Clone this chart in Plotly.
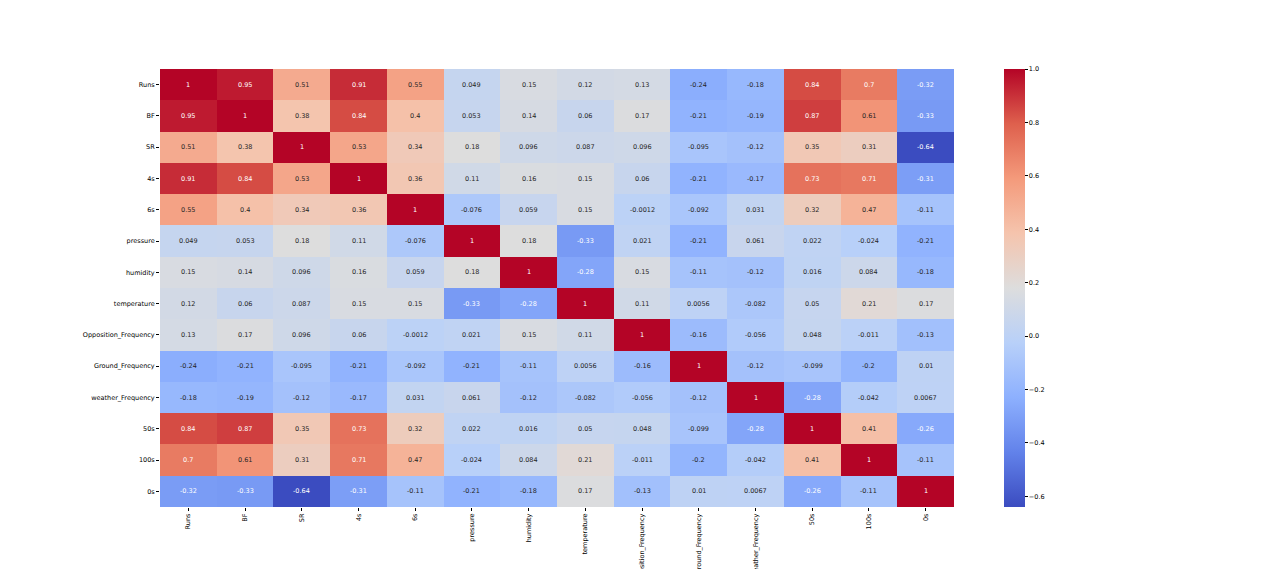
import plotly.graph_objects as go

labels = ["Runs", "BF", "SR", "4s", "6s", "pressure", "humidity", "temperature",
          "Opposition_Frequency", "Ground_Frequency", "weather_Frequency", "50s", "100s", "0s"]

corr = [
    [1, 0.95, 0.51, 0.91, 0.55, 0.049, 0.15, 0.12, 0.13, -0.24, -0.18, 0.84, 0.7, -0.32],
    [0.95, 1, 0.38, 0.84, 0.4, 0.053, 0.14, 0.06, 0.17, -0.21, -0.19, 0.87, 0.61, -0.33],
    [0.51, 0.38, 1, 0.53, 0.34, 0.18, 0.096, 0.087, 0.096, -0.095, -0.12, 0.35, 0.31, -0.64],
    [0.91, 0.84, 0.53, 1, 0.36, 0.11, 0.16, 0.15, 0.06, -0.21, -0.17, 0.73, 0.71, -0.31],
    [0.55, 0.4, 0.34, 0.36, 1, -0.076, 0.059, 0.15, -0.0012, -0.092, 0.031, 0.32, 0.47, -0.11],
    [0.049, 0.053, 0.18, 0.11, -0.076, 1, 0.18, -0.33, 0.021, -0.21, 0.061, 0.022, -0.024, -0.21],
    [0.15, 0.14, 0.096, 0.16, 0.059, 0.18, 1, -0.28, 0.15, -0.11, -0.12, 0.016, 0.084, -0.18],
    [0.12, 0.06, 0.087, 0.15, 0.15, -0.33, -0.28, 1, 0.11, 0.0056, -0.082, 0.05, 0.21, 0.17],
    [0.13, 0.17, 0.096, 0.06, -0.0012, 0.021, 0.15, 0.11, 1, -0.16, -0.056, 0.048, -0.011, -0.13],
    [-0.24, -0.21, -0.095, -0.21, -0.092, -0.21, -0.11, 0.0056, -0.16, 1, -0.12, -0.099, -0.2, 0.01],
    [-0.18, -0.19, -0.12, -0.17, 0.031, 0.061, -0.12, -0.082, -0.056, -0.12, 1, -0.28, -0.042, 0.0067],
    [0.84, 0.87, 0.35, 0.73, 0.32, 0.022, 0.016, 0.05, 0.048, -0.099, -0.28, 1, 0.41, -0.26],
    [0.7, 0.61, 0.31, 0.71, 0.47, -0.024, 0.084, 0.21, -0.011, -0.2, -0.042, 0.41, 1, -0.11],
    [-0.32, -0.33, -0.64, -0.31, -0.11, -0.21, -0.18, 0.17, -0.13, 0.01, 0.0067, -0.26, -0.11, 1],
]

cb_ticks = [-0.6, -0.4, -0.2, 0.0, 0.2, 0.4, 0.6, 0.8, 1.0]

# matplotlib "coolwarm" approximation
cw = [
    (0.0, (59, 76, 192)),
    (0.125, (98, 130, 234)),
    (0.25, (141, 176, 254)),
    (0.375, (184, 208, 249)),
    (0.5, (221, 221, 221)),
    (0.625, (245, 196, 173)),
    (0.75, (244, 154, 123)),
    (0.875, (222, 96, 77)),
    (1.0, (180, 4, 38)),
]
colorscale = [[p, f"rgb{c}"] for p, c in cw]

zmin = min(min(r) for r in corr)
zmax = 1.0


def cmap(v):
    t = (v - zmin) / (zmax - zmin)
    t = max(0.0, min(1.0, t))
    for (p0, c0), (p1, c1) in zip(cw[:-1], cw[1:]):
        if p0 <= t <= p1:
            f = (t - p0) / (p1 - p0)
            return tuple(c0[i] + f * (c1[i] - c0[i]) for i in range(3))
    return cw[-1][1]


def lum(rgb):
    out = []
    for c in rgb:
        c = c / 255.0
        out.append(c / 12.92 if c <= 0.03928 else ((c + 0.055) / 1.055) ** 2.4)
    return 0.2126 * out[0] + 0.7152 * out[1] + 0.0722 * out[2]


FONT = "DejaVu Sans"
FS = 6.5

L, T = 152, 61
PW, PH = 794, 438

fig = go.Figure()
fig.add_trace(go.Heatmap(
    z=corr, x=labels, y=labels,
    colorscale=colorscale, zmin=zmin, zmax=zmax,
    xgap=0, ygap=0,
    colorbar=dict(
        x=(1004 - 160) / PW, xanchor="left", y=0.5, yanchor="middle",
        len=1, lenmode="fraction", thickness=21, ypad=0, xpad=0,
        outlinewidth=0, tickvals=cb_ticks, tickformat=".1f",
        ticks="outside", ticklen=3, tickwidth=0.8, tickcolor="black",
        tickfont=dict(family=FONT, size=FS, color="black"),
    ),
    hoverinfo="skip",
))

annotations = []
for i, row in enumerate(corr):
    for j, v in enumerate(row):
        col = "white" if lum(cmap(v)) <= 0.408 else "#262626"
        annotations.append(dict(
            x=labels[j], y=labels[i], xref="x", yref="y",
            text=f"{v:.2g}", showarrow=False,
            font=dict(family=FONT, size=FS, color=col),
        ))

fig.update_layout(
    width=1280, height=569,
    margin=dict(l=L, r=1280 - L - PW, t=T, b=569 - T - PH, autoexpand=False),
    paper_bgcolor="white", plot_bgcolor="white",
    annotations=annotations,
    font=dict(family=FONT, size=FS, color="black"),
    xaxis=dict(
        tickangle=-90, ticks="outside", ticklen=3, tickwidth=0.8, tickcolor="black",
        showgrid=False, zeroline=False, automargin=False, showline=False,
        tickfont=dict(family=FONT, size=FS, color="black"),
    ),
    yaxis=dict(
        autorange="reversed", ticks="outside", ticklen=3, tickwidth=0.8, tickcolor="black",
        showgrid=False, zeroline=False, automargin=False, showline=False,
        tickfont=dict(family=FONT, size=FS, color="black"),
    ),
)

fig.write_html("out.html")
